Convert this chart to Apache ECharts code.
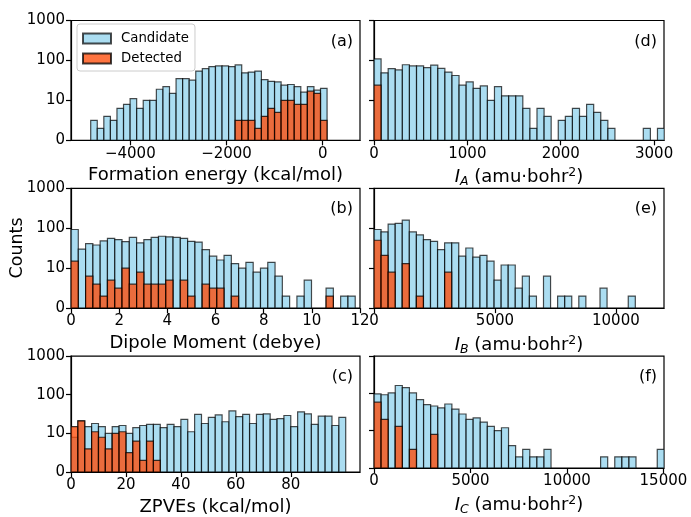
<!DOCTYPE html>
<html>
<head>
<meta charset="utf-8">
<script src="https://cdn.jsdelivr.net/npm/echarts@6/dist/echarts.min.js"></script>
<style>
  html, body { margin: 0; padding: 0; background: #fff; }
  #chart { width: 691px; height: 517px; }
</style>
</head>
<body>
<div id="chart"></div>
<script>
// ---- histogram data: first bin edge, bin width, counts per bin ----
const formationStart = -4823.5, formationWidth = 136.5;
const formationCandidate = [5,3,6,5,8,9,11,8,10,10,19,22,15,35,35,32,54,62,70,73,73,70,77,49,51,54,33,30,29,24,25,22,16,22,18,20];
const formationDetected  = [0,0,0,0,0,0,0,0,0,0,0,0,0,0,0,0,0,0,0,0,0,0,5,5,5,3,6,8,7,10,10,9,9,17,15,5];

const dipoleStart = 0, dipoleWidth = 0.3026;
const dipoleCandidate = [93,30,41,38,48,56,52,46,59,43,52,59,63,61,59,56,47,45,29,20,16,21,13,10,14,9,10,14,8,3,0,3,7,0,0,5,0,3,3];
const dipoleDetected  = [15,0,8,6,3,7,5,10,6,9,6,6,6,7,0,7,3,0,6,5,5,0,3,0,0,0,0,0,0,0,0,0,0,0,0,3,0,0,0];

const zpveStart = 0, zpveWidth = 2.5;
const zpveCandidate = [9,21,15,18,15,10,15,16,10,14,16,17,17,14,17,15,23,11,31,18,26,30,20,38,27,31,18,31,32,23,24,29,15,36,32,17,28,28,16,26];
const zpveDetected  = [15,21,6,11,9,6,10,11,5,8,3,8,3,0,0,0,0,0,0,0,0,0,0,0,0,0,0,0,0,0,0,0,0,0,0,0,0,0,0,0];

const iaStart = 0, iaWidth = 75.9;
const iaCandidate = [109,49,62,58,78,73,73,66,76,63,51,42,24,29,20,23,10,22,13,13,13,8,3,8,6,0,5,6,8,6,9,7,5,3,0,0,0,0,3,0,3];
const iaDetected  = [24];

const ibStart = 0, ibWidth = 292;
const ibCandidate = [93,81,127,132,160,81,68,52,47,29,43,43,20,32,19,21,15,7,12,12,5,8,3,0,8,0,3,3,0,3,0,0,5,0,0,0,3];
const ibDetected  = [50,21,9,0,13,0,3,0,0,0,9];

const icStart = 0, icWidth = 367;
const icCandidate = [97,92,103,163,143,103,68,50,46,41,52,38,28,20,22,17,13,10,12,6,3,5,3,3,5,0,0,0,0,0,0,0,3,0,3,3,3,0,0,0,5];
const icDetected  = [58,20,0,13,0,5,0,0,9];

// ---- axis ticks ----
const countTicks = [0, 10, 100, 1000];
const formationTicks = [-4000, -2000, 0];
const dipoleTicks = [0, 2, 4, 6, 8, 10, 12];
const zpveTicks = [0, 20, 40, 60, 80];
const iaTicks = [0, 1000, 2000, 3000];
const ibTicks = [0, 5000, 10000];
const icTicks = [0, 5000, 10000, 15000];

// symmetric-log count scale: linear up to 10, logarithmic above
function symlog(v) { return v <= 10 ? v / 10 : 1 + Math.log10(v / 10); }

function bins(start, width, counts) {
  const out = [];
  counts.forEach((c, i) => {
    if (c > 0) out.push([start + i * width, start + (i + 1) * width, symlog(c), c]);
  });
  return out;
}

const FONT = 'DejaVu Sans';
// translucent fills: the detected bars are laid over the candidate bars
const BLUE = 'rgba(135,206,235,0.7)';
const BLUE_EDGE = 'rgba(0,0,0,0.7)';
const RED = 'rgba(255,69,0,0.75)';
const RED_EDGE = 'rgba(0,0,0,0.75)';

const panels = [
  { label: '(a)', name: 'Formation energy (kcal/mol)', min: -5233, max: 775, ticks: formationTicks,
    start: formationStart, width: formationWidth, cand: formationCandidate, det: formationDetected, col: 0, row: 0 },
  { label: '(b)', name: 'Dipole Moment (debye)', min: 0, max: 12, ticks: dipoleTicks,
    start: dipoleStart, width: dipoleWidth, cand: dipoleCandidate, det: dipoleDetected, col: 0, row: 1 },
  { label: '(c)', name: 'ZPVEs (kcal/mol)', min: 0, max: 105.2, ticks: zpveTicks,
    start: zpveStart, width: zpveWidth, cand: zpveCandidate, det: zpveDetected, col: 0, row: 2 },
  { label: '(d)', name: '{i|I}{sub|A}{t| (amu·bohr}{sup|2}{t|)}', min: 0, max: 3106, ticks: iaTicks,
    start: iaStart, width: iaWidth, cand: iaCandidate, det: iaDetected, col: 1, row: 0 },
  { label: '(e)', name: '{i|I}{sub|B}{t| (amu·bohr}{sup|2}{t|)}', min: 0, max: 11990, ticks: ibTicks,
    start: ibStart, width: ibWidth, cand: ibCandidate, det: ibDetected, col: 1, row: 1 },
  { label: '(f)', name: '{i|I}{sub|C}{t| (amu·bohr}{sup|2}{t|)}', min: 0, max: 15030, ticks: icTicks,
    start: icStart, width: icWidth, cand: icCandidate, det: icDetected, col: 1, row: 2 }
];

const gridLeft = [71, 374];
const gridWidth = [289, 290];
const gridTop = [20.5, 188.3, 356.1];
const gridHeight = 119.8;

const nameRich = {
  t:   { fontFamily: FONT, fontSize: 18, color: '#000' },
  i:   { fontFamily: FONT, fontSize: 18, fontStyle: 'italic', color: '#000' },
  sub: { fontFamily: FONT, fontSize: 12.5, fontStyle: 'italic', color: '#000', verticalAlign: 'bottom', padding: [9, 0, 0, 0] },
  sup: { fontFamily: FONT, fontSize: 12.5, color: '#000', verticalAlign: 'top', padding: [0, 0, 9, 0] }
};

function renderBar(params, api) {
  const p0 = api.coord([api.value(0), 0]);
  const p1 = api.coord([api.value(1), api.value(2)]);
  return {
    type: 'rect',
    shape: { x: p0[0], y: p1[1], width: p1[0] - p0[0], height: p0[1] - p1[1] },
    style: api.style()
  };
}

const grid = [], xAxis = [], yAxis = [], series = [], graphic = [];
panels.forEach((p, k) => {
  grid.push({
    left: gridLeft[p.col], top: gridTop[p.row], width: gridWidth[p.col], height: gridHeight,
    show: true, borderColor: '#000', borderWidth: 1.2, backgroundColor: 'transparent'
  });
  xAxis.push({
    gridIndex: k, type: 'value', min: p.min, max: p.max,
    name: p.name, nameLocation: 'middle', nameGap: 26,
    nameTextStyle: { fontFamily: FONT, fontSize: 18, color: '#000', rich: nameRich, verticalAlign: 'top' },
    axisLine: { show: true, onZero: false, lineStyle: { color: '#000', width: 1.2 } },
    axisTick: { show: true, customValues: p.ticks, length: 5, lineStyle: { color: '#000', width: 1.2 } },
    axisLabel: {
      customValues: p.ticks, margin: 6, fontFamily: FONT, fontSize: 15, color: '#000',
      formatter: v => String(v).replace('-', '\u2212'), hideOverlap: false
    },
    splitLine: { show: false }
  });
  yAxis.push({
    gridIndex: k, type: 'value', min: 0, max: 3, interval: 1,
    axisLine: { show: true, onZero: false, lineStyle: { color: '#000', width: 1.2 } },
    axisTick: { show: true, length: 5, lineStyle: { color: '#000', width: 1.2 } },
    axisLabel: {
      show: p.col === 0, margin: 6, fontFamily: FONT, fontSize: 15, color: '#000',
      formatter: v => String(countTicks[v])
    },
    splitLine: { show: false }
  });
  series.push({
    type: 'custom', name: 'Candidate', xAxisIndex: k, yAxisIndex: k, clip: true,
    renderItem: renderBar, encode: { x: [0, 1], y: 2 },
    itemStyle: { color: BLUE, borderColor: BLUE_EDGE, borderWidth: 1.2 },
    data: bins(p.start, p.width, p.cand), z: 2, silent: true
  });
  series.push({
    type: 'custom', name: 'Detected', xAxisIndex: k, yAxisIndex: k, clip: true,
    renderItem: renderBar, encode: { x: [0, 1], y: 2 },
    itemStyle: { color: RED, borderColor: RED_EDGE, borderWidth: 1.2 },
    data: bins(p.start, p.width, p.det), z: 3, silent: true
  });
  graphic.push({
    type: 'text', right: p.col === 0 ? 691 - 353 : 691 - 657, top: gridTop[p.row] + 13,
    style: { text: p.label, fontFamily: FONT, fontSize: 16, fill: '#000' }
  });
});

graphic.push({
  type: 'text', x: 8, y: 248, rotation: Math.PI / 2,
  style: { text: 'Counts', fontFamily: FONT, fontSize: 17.5, fill: '#000', align: 'center', verticalAlign: 'top' }
});

const chart = echarts.init(document.getElementById('chart'), null, { renderer: 'canvas' });
chart.setOption({
  animation: false,
  backgroundColor: '#fff',
  grid, xAxis, yAxis, series, graphic,
  legend: {
    data: ['Candidate', 'Detected'], orient: 'vertical', left: 77, top: 24,
    icon: 'rect', itemWidth: 28, itemHeight: 10, itemGap: 7, selectedMode: false,
    padding: [8, 6, 6, 5], backgroundColor: 'rgba(255,255,255,0.8)',
    borderColor: '#cccccc', borderWidth: 1, borderRadius: 3,
    textStyle: { fontFamily: FONT, fontSize: 13.3, color: '#000', padding: [0, 0, 0, 5] }
  }
});
</script>
</body>
</html>
